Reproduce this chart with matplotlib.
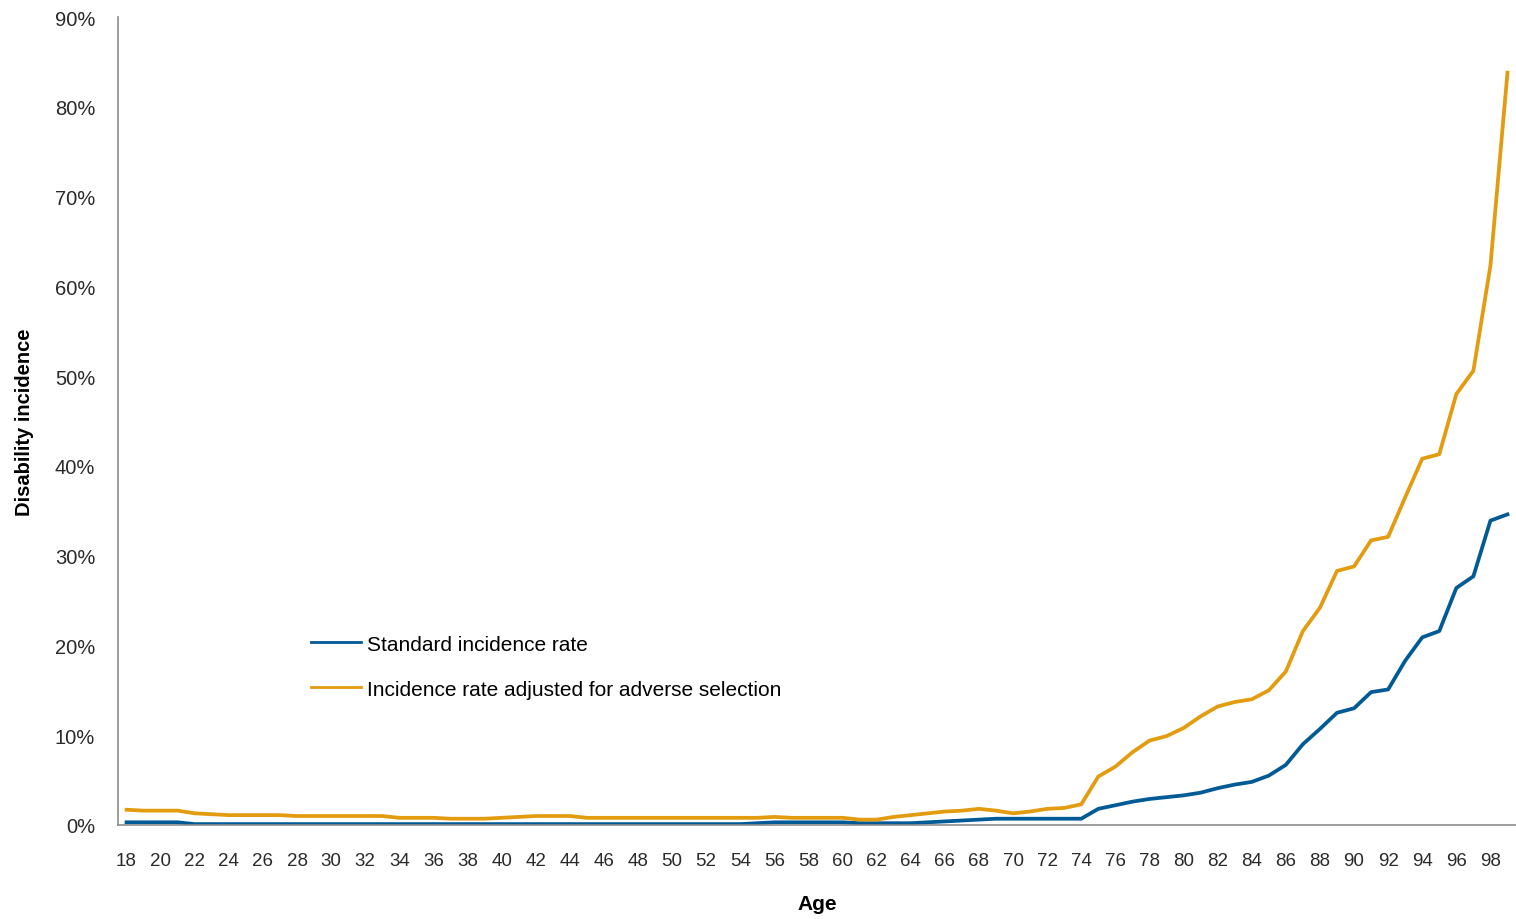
import matplotlib.pyplot as plt
from matplotlib.ticker import PercentFormatter

plt.rcParams['font.family'] = ['Liberation Sans', 'DejaVu Sans']

ages = list(range(18, 100))

# disability incidence by age, in %
standard = [0.3, 0.3, 0.3, 0.3, 0.1, 0.1, 0.1, 0.1, 0.1, 0.1,   # 18-27
            0.1, 0.1, 0.1, 0.1, 0.1, 0.1, 0.1, 0.1, 0.1, 0.1,   # 28-37
            0.1, 0.1, 0.1, 0.1, 0.1, 0.1, 0.1, 0.1, 0.1, 0.1,   # 38-47
            0.1, 0.1, 0.1, 0.1, 0.1, 0.1, 0.1, 0.2, 0.3, 0.3,   # 48-57
            0.3, 0.3, 0.3, 0.2, 0.2, 0.2, 0.2, 0.3, 0.4, 0.5,   # 58-67
            0.6, 0.7, 0.7, 0.7, 0.7, 0.7, 0.7, 1.8, 2.2, 2.6,   # 68-77
            2.9, 3.1, 3.3, 3.6, 4.1, 4.5, 4.8, 5.5, 6.7, 9.0,   # 78-87
            10.7, 12.5, 13.0, 14.8, 15.1, 18.3, 20.9, 21.6, 26.4, 27.7,  # 88-97
            33.9, 34.6]                                        # 98-99

adjusted = [1.7, 1.6, 1.6, 1.6, 1.3, 1.2, 1.1, 1.1, 1.1, 1.1,   # 18-27
            1.0, 1.0, 1.0, 1.0, 1.0, 1.0, 0.8, 0.8, 0.8, 0.7,   # 28-37
            0.7, 0.7, 0.8, 0.9, 1.0, 1.0, 1.0, 0.8, 0.8, 0.8,   # 38-47
            0.8, 0.8, 0.8, 0.8, 0.8, 0.8, 0.8, 0.8, 0.9, 0.8,   # 48-57
            0.8, 0.8, 0.8, 0.6, 0.6, 0.9, 1.1, 1.3, 1.5, 1.6,   # 58-67
            1.8, 1.6, 1.3, 1.5, 1.8, 1.9, 2.3, 5.4, 6.5, 8.1,   # 68-77
            9.4, 9.9, 10.8, 12.1, 13.2, 13.7, 14.0, 15.0, 17.1, 21.6,  # 78-87
            24.2, 28.3, 28.8, 31.7, 32.1, 36.5, 40.8, 41.3, 48.0, 50.6,  # 88-97
            62.3, 83.8]                                        # 98-99

fig = plt.figure(figsize=(15.16, 9.2), dpi=100)
ax = fig.add_axes([118 / 1516, 1 - 826 / 920, 1 - 118 / 1516, (826 - 18) / 920])

ax.plot(ages, standard, color='#005A96', lw=2.7, label='Standard incidence rate')
ax.plot(ages, adjusted, color='#E39B0F', lw=2.7,
        label='Incidence rate adjusted for adverse selection')

ax.set_xlim(17.5, 99.5)
ax.set_ylim(0, 90)
ax.set_xticks(range(18, 99, 2))
ax.set_yticks(range(0, 91, 10))
ax.yaxis.set_major_formatter(PercentFormatter(decimals=0))
ax.tick_params(length=0, labelcolor='#2a2a2a')
ax.tick_params(axis='x', labelsize=13.5, pad=19.5)
ax.tick_params(axis='y', labelsize=14.5, pad=16.5)

for s in ['top', 'right']:
    ax.spines[s].set_visible(False)
for s in ['left', 'bottom']:
    ax.spines[s].set_color('#8c8c8c')
    ax.spines[s].set_linewidth(1.2)

ax.set_xlabel('Age', fontsize=15, fontweight='bold', labelpad=18)
ax.set_ylabel('Disability incidence', fontsize=14.5, fontweight='bold', labelpad=15)

leg = ax.legend(loc='upper left', bbox_to_anchor=(0.132, 0.246), frameon=False,
                fontsize=15, handlelength=2.4, handletextpad=0.3,
                labelspacing=1.25, borderaxespad=0)
for line in leg.get_lines():
    line.set_linewidth(2)

fig.savefig('out.png', dpi=100)
